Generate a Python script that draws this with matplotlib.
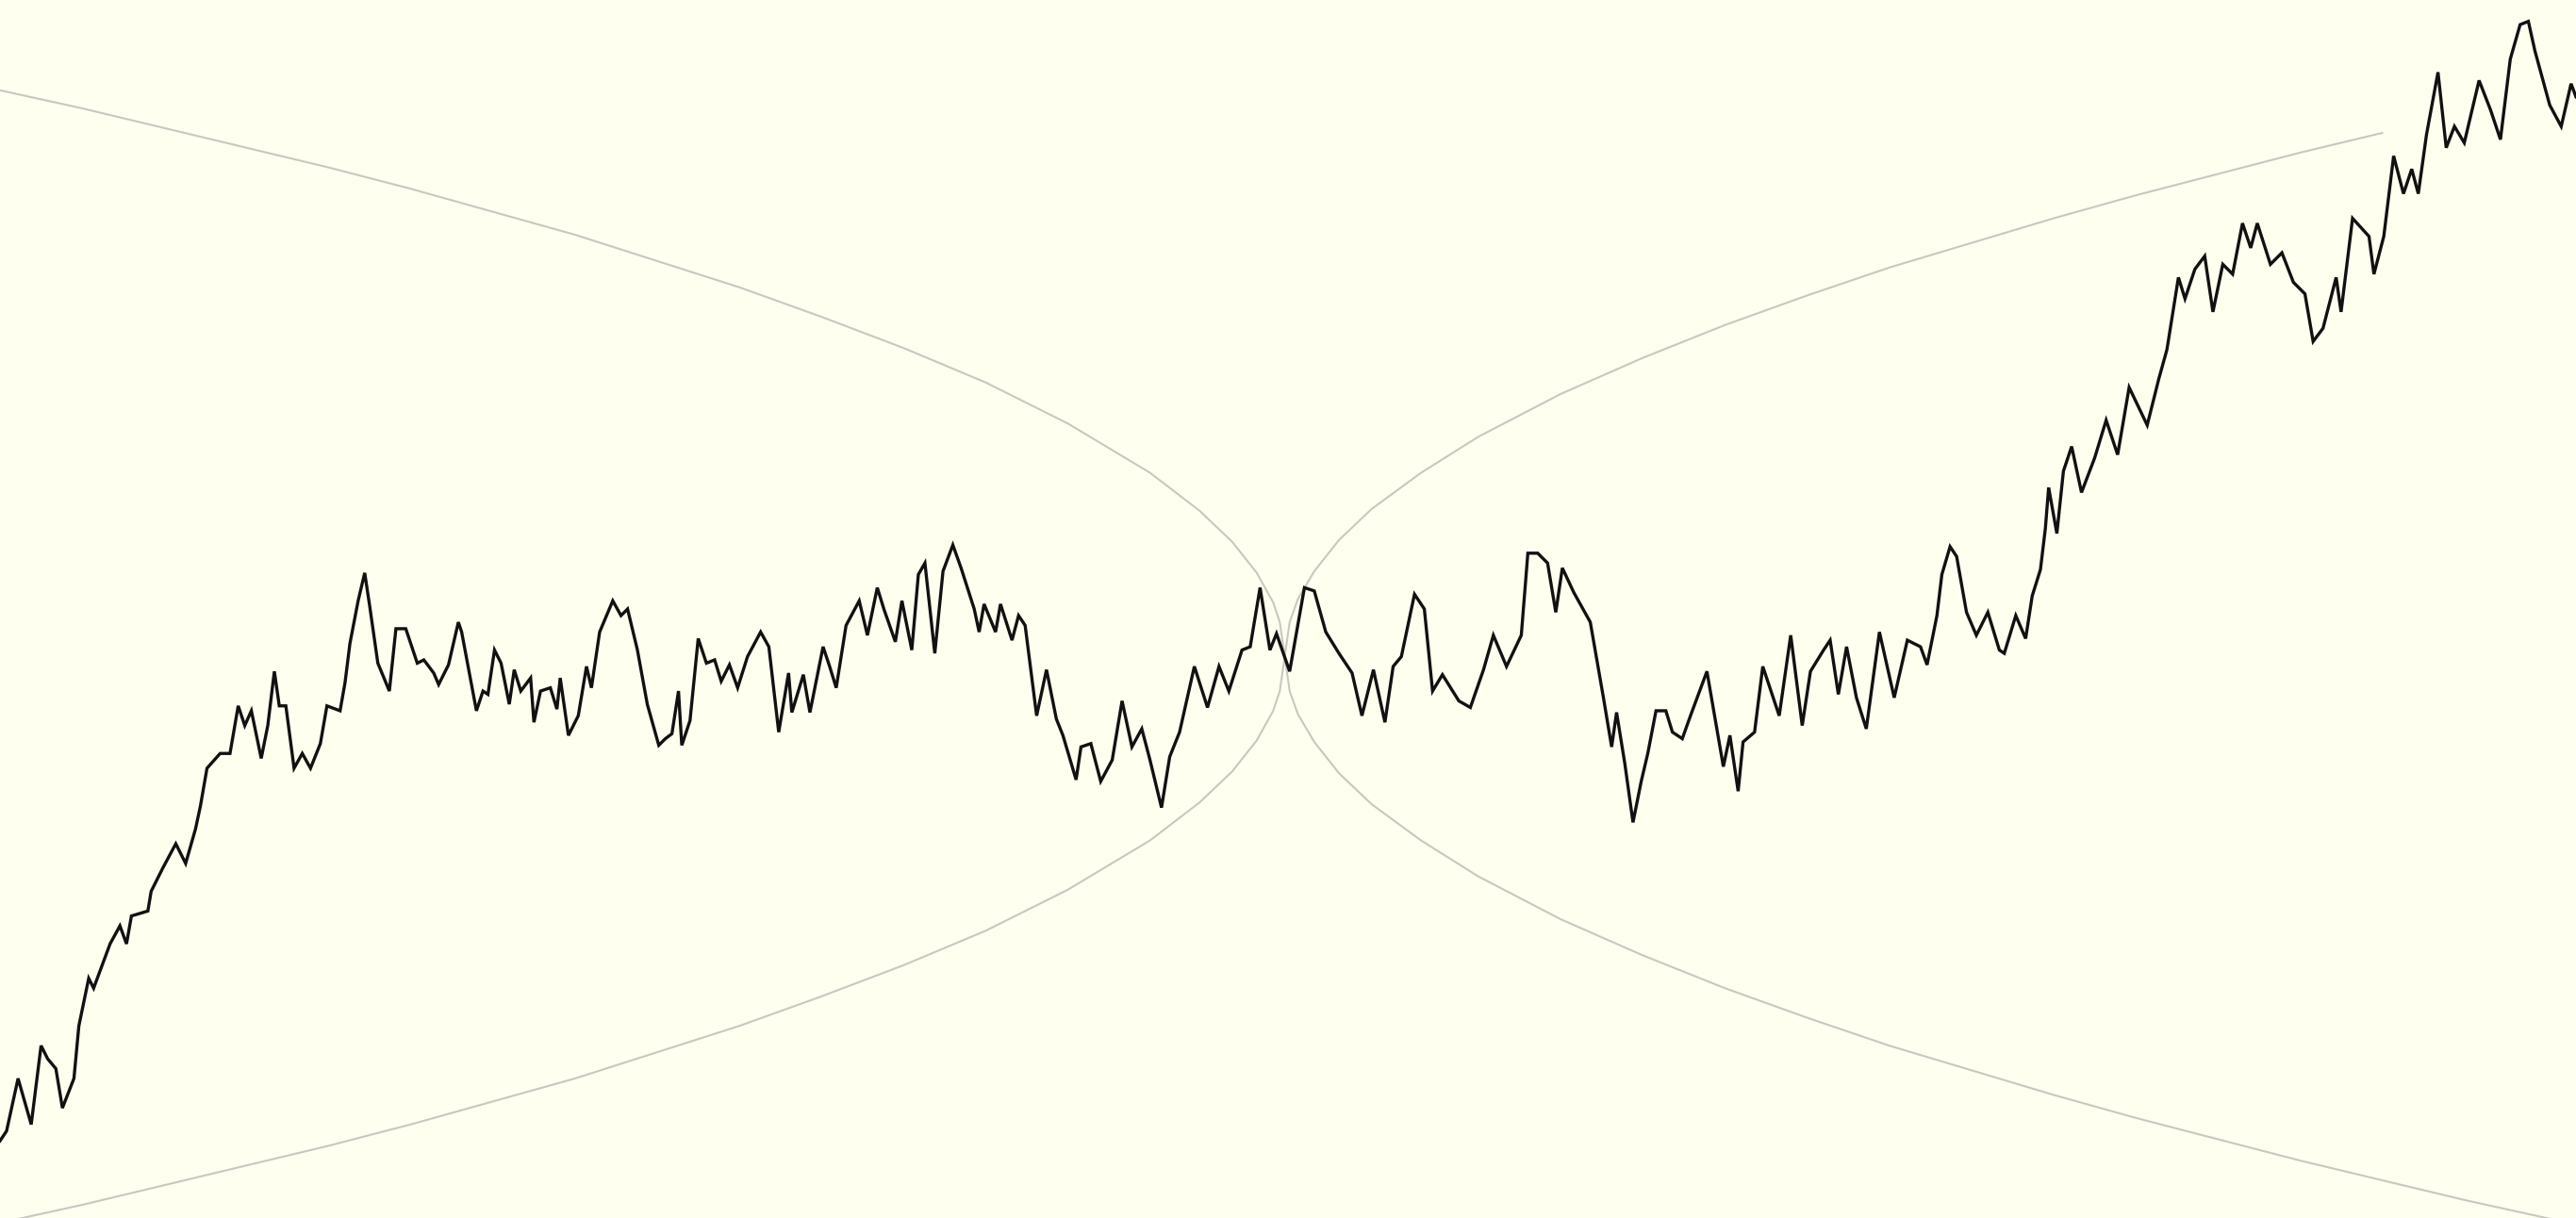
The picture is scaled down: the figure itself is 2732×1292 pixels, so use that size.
import matplotlib
matplotlib.use("Agg")
import matplotlib.pyplot as plt

walk_x = [0, 4, 11, 19, 25, 29, 34, 38, 45, 48, 54, 57, 67, 73, 77, 80, 90, 92, 99, 107,
          113, 119, 122, 126, 134, 140, 145, 149, 153, 159, 163, 167, 170, 174, 179, 184,
          189, 195, 199, 207, 210, 213, 218, 222, 225, 230, 237, 241, 247, 254,
          258, 264, 267, 273, 279, 281, 290, 294, 297, 301, 305, 310, 313, 317, 323, 325,
          329, 335, 339, 341, 346, 352, 357, 360, 365, 373, 378, 382, 388, 394, 401, 405,
          409, 413, 415, 420, 425, 430, 435, 439, 444, 449, 455, 463, 468, 474, 480, 482,
          489, 493, 501, 505,
          509, 515, 523, 528, 534, 538, 545, 549, 555, 559, 563, 569, 574, 580, 585, 593,
          596, 599, 606, 609, 616, 620, 624, 631, 637, 643, 647, 655, 658, 664, 670, 677,
          683, 689, 695, 700, 707, 712, 718, 727, 735, 742, 748, 756, 761, 767,
          773, 777, 785, 794, 800, 807, 815, 823, 829, 836, 843, 848, 853, 861, 867, 872,
          878, 888, 895, 903, 909, 917, 926, 930, 936, 942, 947, 951, 958, 968, 976, 981,
          984, 989, 994, 999, 1003, 1008, 1014,
          1018, 1024, 1029, 1039, 1049, 1053, 1058, 1061, 1068, 1073, 1083, 1090, 1097,
          1102, 1110, 1114, 1119, 1124, 1130, 1136, 1144, 1153, 1161, 1169, 1173, 1179,
          1182, 1187, 1191, 1197, 1203, 1210, 1217, 1220, 1227, 1233, 1237, 1242, 1245,
          1247, 1252, 1256, 1261, 1267, 1275, 1282, 1289, 1296, 1307, 1314, 1319, 1326,
          1330, 1336, 1342, 1347, 1353, 1359, 1365, 1370, 1374, 1382, 1389, 1396, 1403,
          1408, 1414, 1422, 1425, 1432, 1442, 1445, 1451, 1457, 1463, 1468, 1472, 1477,
          1484, 1489, 1494, 1500, 1509, 1516, 1522, 1528, 1534, 1539, 1543, 1552, 1559,
          1565, 1568]
walk_y = [695, 689, 657, 685, 637, 645, 651, 675, 657, 625, 596, 602, 575, 564, 575, 558, 555, 543, 529, 514,
          526, 505, 491, 468, 459, 459, 430, 442, 433, 462, 442, 409, 430, 430, 468, 459,
          468, 453, 430, 433, 416, 392, 366, 349, 369, 404, 421, 383, 383, 404,
          402, 410, 417, 405, 379, 385, 433, 421, 423, 396, 404, 429, 408, 421, 413, 440,
          421, 419, 432, 413, 448, 436, 406, 419, 385, 366, 375, 371, 396, 429, 454, 450,
          447, 421, 454, 439, 389, 404, 402, 415, 405, 419, 400, 385, 394, 446, 410, 434,
          411, 434, 394, 406,
          419, 381, 366, 387, 358, 371, 391, 366, 396, 350, 343, 398, 348, 332, 346, 371,
          385, 368, 385, 368, 390, 375, 381, 436, 408, 438, 448, 475, 455, 453, 476, 463,
          427, 455, 444, 463, 492, 461, 446, 406, 431, 406, 421, 396, 394, 358,
          396, 386, 409, 358, 360, 385, 398, 410, 436, 408, 440, 406, 400, 362, 371, 421,
          411, 427, 431, 408, 387, 406, 387, 337, 337, 343, 373, 346, 361, 379, 425, 455,
          434, 465, 501, 476, 459, 433, 433,
          446, 450, 436, 409, 467, 448, 482, 452, 446, 406, 436, 387, 442,
          409, 396, 390, 423, 394, 425, 444, 385, 425, 390, 394, 405, 375,
          350, 333, 339, 373, 387, 373, 396, 398, 375, 389, 363, 347, 322,
          297, 325, 287, 272, 300, 279, 256, 277, 236, 259, 231, 213, 169,
          182, 164, 156, 190, 161, 167, 136, 151, 136, 161, 154, 172, 179,
          208, 200, 169, 190, 133, 144, 167, 144, 95, 118, 103, 118, 82,
          44, 90, 77, 87, 49, 67, 85, 36, 15, 13, 31, 64, 77,
          51, 59]

# grey sqrt-shaped envelope: half width around the centre level
env_center = 400
env_x = [0, 50, 100, 150, 200, 250, 300, 350, 400, 450, 500, 550, 600, 650, 700, 730,
         750, 765, 775, 779, 782, 785, 790, 800, 815, 835, 865, 900, 950, 1000, 1050,
         1100, 1150, 1200, 1250, 1300, 1350, 1400, 1450, 1500, 1550, 1568]
env_half = [345, 334, 322, 310, 298, 285, 271, 257, 241, 225, 207, 188, 167, 142, 112, 89,
            70, 51, 33, 21, 0, 21, 35, 52, 71, 90, 112, 134, 160, 182, 202,
            220, 237, 252, 267, 281, 294, 307, 319, 331, 342, 346]
# the upper branch disappears under the walk at the top right
upper_end = 1476

bg = "#fffff0"
fig = plt.figure(figsize=(27.32, 12.92), dpi=100, facecolor=bg)
ax = fig.add_axes([0, 0, 1, 1], facecolor=bg)

upper_x = [x for x in env_x if x <= upper_end]
upper = [env_center - h for x, h in zip(env_x, env_half) if x <= upper_end]
lower = [env_center + h for h in env_half]
ax.plot(upper_x, upper, color="#c8c8c0", lw=1.5)
ax.plot(env_x, lower, color="#c8c8c0", lw=1.5)

ax.plot(walk_x, walk_y, color="#111111", lw=2.4, solid_joinstyle="miter")

ax.set_xlim(0, 1568)
ax.set_ylim(742, 0)
ax.axis("off")

fig.savefig("out.png", dpi=100, facecolor=bg)
